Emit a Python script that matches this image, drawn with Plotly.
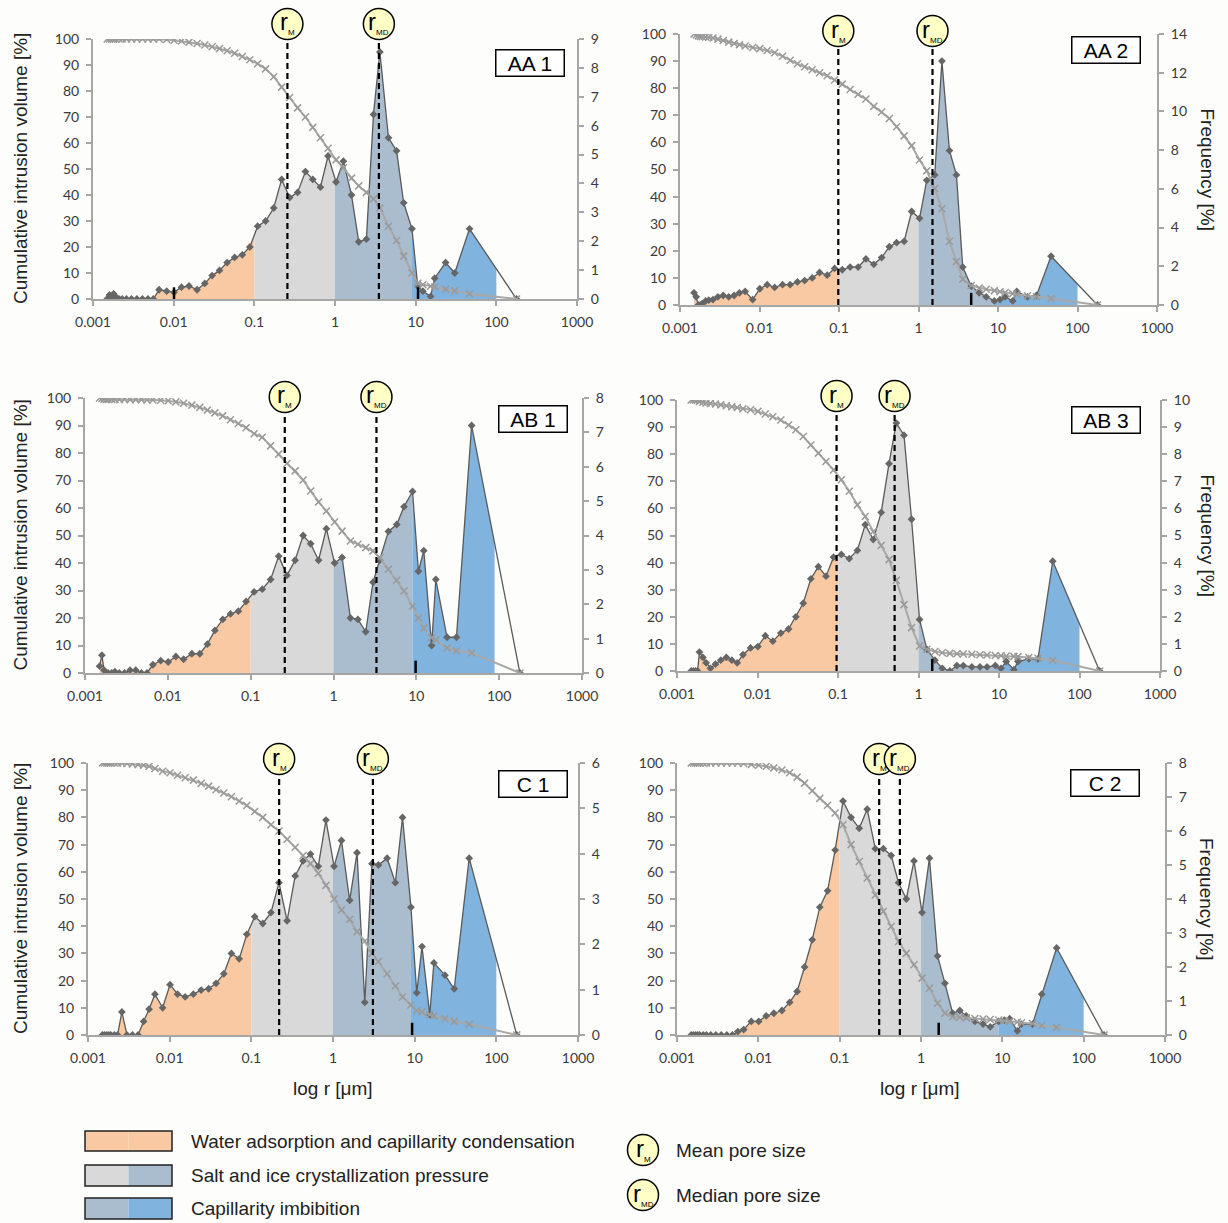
import numpy as np
import plotly.graph_objects as go

# ---------------- data ----------------
radius = [0.0015, 0.0016, 0.0017, 0.0018, 0.0019, 0.0021, 0.0023, 0.0026, 0.0030, 0.0035, 0.0041, 0.0048,
          0.0056, 0.0066, 0.0082, 0.0101, 0.0125, 0.0155, 0.0195, 0.0243, 0.030, 0.037, 0.046, 0.057, 0.071, 0.088,
          0.110, 0.138, 0.174, 0.218, 0.274, 0.344, 0.43, 0.53, 0.66, 0.82,
          1.03, 1.27, 1.6, 1.97, 2.45, 3.0, 3.6, 4.6, 5.8, 7.1, 9.0,
          10.6, 12.3, 15.3, 17.2, 23.5, 30.5, 46.5, 178]

panel_names = ["AA 1", "AA 2", "AB 1", "AB 3", "C 1", "C 2"]

freq_aa1 = [0, 0.14, 0.05, 0.18, 0.09, 0, 0, 0, 0, 0, 0, 0,
            0, 0.32, 0.27, 0.23, 0.41, 0.45, 0.32, 0.54, 0.81, 0.99, 1.26, 1.44, 1.53, 1.80,
            2.52, 2.70, 3.15, 4.14, 3.51, 3.69, 4.41, 4.14, 3.87, 4.95,
            4.05, 4.77, 3.60, 1.98, 2.07, 6.39, 8.55, 5.58, 5.13, 3.33, 2.43,
            0.45, 0.27, 0.09, 0.72, 1.26, 0.90, 2.43, 0]
cum_aa1 = [100, 100, 100, 100, 100, 100, 100, 100, 100, 100, 100, 100,
           100, 100, 99.8, 99.5, 99.2, 98.8, 98.3, 97.7, 97, 96.3, 95.5, 94.5, 93.3, 92,
           90.5, 88.5, 85.5, 81.5, 77.5, 73.5, 70, 66, 62, 58,
           53.5, 50.5, 46.5, 43.5, 41, 38.5, 35, 28, 22.5, 16.5, 10,
           6, 5.5, 4.9, 4.6, 3.8, 3.2, 2, 0]

freq_aa2 = [0.63, 0.42, 0, 0, 0.07, 0.21, 0.25, 0.28, 0.42, 0.49, 0.42, 0.49,
            0.63, 0.70, 0.28, 0.84, 1.05, 0.91, 1.05, 1.05, 1.19, 1.26, 1.40, 1.68, 1.54, 1.89,
            1.82, 1.96, 1.96, 2.38, 2.10, 2.45, 3.01, 3.22, 3.29, 4.83,
            4.48, 6.44, 6.72, 12.60, 7.98, 6.72, 1.96, 0.98, 0.63, 0.42, 0.21,
            0.28, 0.42, 0.21, 0.70, 0.42, 0.49, 2.52, 0]
cum_aa2 = [100, 99.6, 99.3, 99.1, 99, 98.9, 98.8, 98.5, 98.1, 97.6, 97, 96.5,
           96, 95.6, 95, 94.6, 93.9, 93.1, 91.8, 90.3, 89, 87.9, 86.8, 85.7, 84.6, 83,
           81.5, 79.5, 77.8, 76, 73.3, 71.2, 68.8, 65.8, 62.4, 58.8,
           53.5, 49.5, 43, 35.5, 23.5, 16, 9.5, 7.2, 6.3, 5.8, 5.3,
           4.9, 4.6, 4.2, 4.0, 3.4, 3, 2.4, 0]

freq_ab1 = [0.20, 0.52, 0.08, 0, 0, 0, 0.04, 0, 0, 0.08, 0.08, 0,
            0, 0.24, 0.36, 0.32, 0.48, 0.40, 0.56, 0.56, 0.84, 1.24, 1.56, 1.72, 1.80, 2.08,
            2.36, 2.44, 2.72, 3.40, 2.84, 3.28, 4.00, 3.76, 3.28, 4.20,
            3.20, 3.36, 1.60, 1.56, 1.20, 2.64, 3.28, 4.12, 4.32, 4.84, 5.28,
            2.96, 3.56, 0.80, 2.72, 1.04, 1.04, 7.20, 0]
cum_ab1 = [100, 99.8, 99.6, 99.5, 99.5, 99.5, 99.5, 99.5, 99.5, 99.4, 99.4, 99.4,
           99.3, 99.3, 99.2, 99, 98.6, 98.1, 97.4, 96.6, 95.6, 94.6, 93.5, 92.1, 90.7, 89.2,
           87, 85.7, 82.6, 79.6, 76.2, 73.5, 70.2, 66.2, 62.2, 58.9,
           54.9, 51.6, 48, 46.8, 45.6, 44.4, 42, 37.7, 33.7, 29.8, 24.3,
           20, 16.4, 12.8, 12, 9.1, 8.1, 7.3, 0]

freq_ab3 = [0, 0, 0, 0, 0.70, 0.50, 0.30, 0.10, 0.25, 0.40, 0.50, 0.40,
            0.30, 0.60, 0.85, 0.90, 1.30, 1.10, 1.40, 1.55, 2.00, 2.50, 3.40, 3.85, 3.50, 4.20,
            4.30, 4.15, 4.45, 5.40, 4.85, 5.85, 7.65, 9.15, 8.70, 5.60,
            1.90, 0.80, 0.40, 0.10, 0, 0.20, 0.20, 0.15, 0.15, 0.15, 0.20,
            0.10, 0.35, 0.05, 0.35, 0.45, 0.45, 4.05, 0]
cum_ab3 = [100, 100, 100, 100, 99.5, 99.2, 98.9, 98.7, 98.5, 98.2, 97.9, 97.5,
           97.2, 96.8, 96.4, 95.8, 94.8, 93.8, 92.6, 90.8, 89, 86.5, 83.4, 80.4, 77.3, 74.2,
           70.6, 66.3, 61.3, 57, 51.5, 46.3, 41.1, 33.5, 24.5, 16,
           9.2, 8, 7.2, 6.7, 6.5, 6.4, 6.3, 6.2, 6.0, 5.9, 5.7,
           5.6, 5.5, 5.4, 5.3, 5.0, 4.7, 4.0, 0]

freq_c1 = [0, 0, 0, 0, 0, 0, 0, 0.51, 0, 0, 0, 0.30,
           0.57, 0.90, 0.60, 1.11, 0.90, 0.84, 0.90, 0.99, 1.02, 1.14, 1.35, 1.80, 1.68, 2.22,
           2.61, 2.46, 2.70, 3.36, 2.52, 3.51, 3.84, 3.99, 3.72, 4.74,
           3.72, 4.29, 2.97, 4.02, 0.72, 3.78, 3.75, 3.90, 3.36, 4.80, 2.82,
           0.93, 1.95, 0.45, 1.59, 1.32, 1.02, 3.90, 0]
cum_c1 = [100, 100, 100, 100, 100, 100, 100, 100, 99.8, 99.6, 99.4, 99.2,
          98.8, 98, 97, 96.4, 95.5, 94.6, 93.7, 92.5, 91.5, 90.2, 89, 87.6, 86, 84.4,
          82.2, 80, 77.3, 75, 72, 69, 66, 63, 59.5, 55,
          50, 46, 42.5, 38, 34.5, 30, 27, 22.5, 18, 14, 11,
          9, 8.5, 7.5, 7, 6, 5, 4, 0]

freq_c2 = [0, 0, 0, 0, 0, 0, 0, 0, 0, 0, 0, 0,
           0.10, 0.16, 0.40, 0.40, 0.56, 0.64, 0.72, 0.96, 1.28, 2.00, 2.80, 3.76, 4.24, 5.44,
           6.88, 6.40, 6.08, 6.64, 5.48, 5.48, 5.28, 4.48, 4.00, 5.12,
           3.60, 5.20, 2.32, 1.52, 0.64, 0.72, 0.56, 0.40, 0.32, 0.24, 0.40,
           0.44, 0.48, 0.12, 0.32, 0.32, 1.20, 2.56, 0]
cum_c2 = [100, 100, 100, 100, 100, 100, 100, 100, 100, 100, 100, 100,
          100, 99.8, 99.5, 99.2, 98.8, 98.2, 97.4, 96.4, 94.8, 92.6, 89.8, 87, 84.5, 81.6,
          77.3, 70, 63.8, 57.7, 51.5, 45.4, 39.9, 34.4, 30, 25.8,
          20.9, 17.2, 11.7, 8, 6.7, 6.5, 6.3, 6.1, 5.9, 5.7, 5.5,
          5.2, 5.0, 4.8, 4.5, 4.2, 3.5, 2.8, 0]

freq_series = [freq_aa1, freq_aa2, freq_ab1, freq_ab3, freq_c1, freq_c2]
cum_series = [cum_aa1, cum_aa2, cum_ab1, cum_ab3, cum_c1, cum_c2]

freq_max = [9, 14, 8, 10, 6, 8]
freq_step = [1, 2, 1, 1, 1, 1]
r_mean = [0.257, 0.098, 0.258, 0.096, 0.219, 0.306]
r_median = [3.5, 1.5, 3.3, 0.505, 3.08, 0.55]
short_marks = [[0.0101, 10.7], [4.6], [9.8], [1.48], [9.3], [1.65]]

x_tickvals = [0.001, 0.01, 0.1, 1, 10, 100, 1000]
x_ticktext = ["0.001", "0.01", "0.1", "1", "10", "100", "1000"]

zone_edges = [0.1, 1, 9.0]
fill_end = [100, 100, 88, 100, 100, 100]
zone_colors = ["#f8c9a2", "#d9d9d9", "#a9bdcf", "#80b3de"]

legend_labels = ["Water adsorption and capillarity condensation",
                 "Salt and ice crystallization pressure",
                 "Capillarity imbibition"]

# ---------------- layout geometry (pixels) ----------------
W, H = 1228, 1223
boxes = [(93, 577, 39, 299), (680, 1157, 34, 305), (85, 582, 398, 673),
         (677, 1160, 400, 671), (88, 578, 763, 1035), (677, 1165, 763, 1035)]
circle_cy = [24, 31, 397, 396, 759, 759]
label_pos = [(530, 63.5), (1106, 49.5), (532.5, 418.5), (1106, 419.5), (532.5, 783.5), (1105, 783)]
CR = 15.5

BG = "#fdfdfb"
AXC = "#a6a6a6"
TICKFONT = dict(family="Lato, Liberation Sans, sans-serif", size=14, color="#3a3a3a")
TXT = "Liberation Sans, Arial, sans-serif"
CIRCLE_FILL = "#ffffc6"
X_LOG_MIN, X_LOG_MAX = -3, 3


def px(x):
    return x / W


def py(y):
    return 1 - y / H


def zone(xs, ys, lo, hi):
    lx = np.log10(xs)
    f = lambda v: float(np.interp(np.log10(v), lx, ys))
    zx = [lo] + [x for x in xs if lo < x < hi] + [hi]
    zy = [f(lo)] + [y for x, y in zip(xs, ys) if lo < x < hi] + [f(hi)]
    return zx, zy


def r_label(sub):
    return f"r<sub><span style='font-size:8px'>{sub}</span></sub>"


fig = go.Figure()
layout = {}
annotations = []
shapes = []

for k in range(6):
    xid = "x" if k == 0 else f"x{k+1}"
    yf = "y" if k == 0 else f"y{2*k+1}"
    yc = f"y{2*k+2}"
    xname = "xaxis" if k == 0 else f"xaxis{k+1}"
    yfname = "yaxis" if k == 0 else f"yaxis{2*k+1}"
    ycname = f"yaxis{2*k+2}"
    x0, x1, y0, y1 = boxes[k]
    fr = freq_series[k]
    cm = cum_series[k]

    bounds = [radius[0]] + zone_edges + [fill_end[k]]
    for z in range(4):
        zx, zy = zone(radius, fr, bounds[z], bounds[z + 1])
        fig.add_trace(go.Scatter(x=zx, y=zy, xaxis=xid, yaxis=yf, mode="lines",
                                 line=dict(width=0), fill="tozeroy",
                                 fillcolor=zone_colors[z], hoverinfo="skip"))
    fig.add_trace(go.Scatter(x=radius, y=fr, xaxis=xid, yaxis=yf, mode="lines+markers",
                             line=dict(color="#5a5a5a", width=1.3),
                             marker=dict(symbol="diamond", size=6, color="#666666")))
    fig.add_trace(go.Scatter(x=radius, y=cm, xaxis=xid, yaxis=yc, mode="lines+markers",
                             line=dict(color="#a8a8a8", width=2),
                             marker=dict(symbol="x-thin", size=7, color="#9a9a9a",
                                         line=dict(color="#9a9a9a", width=1.5))))
    for r in (r_mean[k], r_median[k]):
        fig.add_trace(go.Scatter(x=[r, r], y=[0, 100], xaxis=xid, yaxis=yc, mode="lines",
                                 line=dict(color="black", width=2.2, dash="6px,4px")))
    for m in short_marks[k]:
        fig.add_trace(go.Scatter(x=[m, m], y=[0, 4.5], xaxis=xid, yaxis=yc, mode="lines",
                                 line=dict(color="black", width=2.5)))

    # circle markers for mean / median pore size (above the plot area)
    for r, sub in ((r_mean[k], "M"), (r_median[k], "MD")):
        frac = (np.log10(r) - X_LOG_MIN) / (X_LOG_MAX - X_LOG_MIN)
        cxp = px(x0) + frac * (px(x1) - px(x0))
        cyp = py(circle_cy[k])
        shapes.append(dict(type="circle", xref="paper", yref="paper",
                           x0=cxp - CR / W, x1=cxp + CR / W, y0=cyp - CR / H, y1=cyp + CR / H,
                           fillcolor=CIRCLE_FILL, line=dict(color="black", width=1.5),
                           layer="above"))
        annotations.append(dict(xref="paper", yref="paper", x=cxp, y=cyp,
                                text=r_label(sub), showarrow=False,
                                xanchor="center", yanchor="middle", yshift=1,
                                font=dict(family=TXT, size=24, color="black")))

    common = dict(showline=True, linecolor=AXC, linewidth=2, ticks="outside", ticklen=5,
                  tickcolor=AXC, tickwidth=1.5, showgrid=False, zeroline=False,
                  tickfont=TICKFONT, automargin=False)
    layout[xname] = dict(type="log", range=[X_LOG_MIN, X_LOG_MAX], domain=[px(x0), px(x1)], anchor=yf,
                         tickmode="array", tickvals=x_tickvals, ticktext=x_ticktext,
                         ticklabelstandoff=4, **common)
    layout[yfname] = dict(domain=[py(y1), py(y0)], anchor=xid, side="right",
                          range=[0, freq_max[k]], tickmode="linear", tick0=0, dtick=freq_step[k],
                          ticklabelstandoff=4, **common)
    layout[ycname] = dict(domain=[py(y1), py(y0)], anchor=xid, side="left", overlaying=yf,
                          range=[0, 100], tickmode="linear", tick0=0, dtick=10,
                          ticklabelstandoff=4, **common)

    lx, ly = label_pos[k]
    annotations.append(dict(xref="paper", yref="paper", x=px(lx), y=py(ly), text=panel_names[k],
                            showarrow=False, xanchor="center", yanchor="middle",
                            font=dict(family=TXT, size=21, color="black"),
                            bgcolor="white", bordercolor="black", borderwidth=1.5,
                            borderpad=2, width=63, height=21))
    cy = (y0 + y1) / 2
    if k % 2 == 0:
        annotations.append(dict(xref="paper", yref="paper", x=px(20), y=py(cy),
                                text="Cumulative intrusion volume [%]", textangle=-90,
                                showarrow=False, xanchor="center", yanchor="middle",
                                font=dict(family=TXT, size=19, color="#222222")))
    else:
        annotations.append(dict(xref="paper", yref="paper", x=px(1207), y=py(cy),
                                text="Frequency [%]", textangle=90,
                                showarrow=False, xanchor="center", yanchor="middle",
                                font=dict(family=TXT, size=19, color="#222222")))

for xc in (333, 920):
    annotations.append(dict(xref="paper", yref="paper", x=px(xc), y=py(1088),
                            text="log r [μm]", showarrow=False, xanchor="center", yanchor="middle",
                            font=dict(family=TXT, size=19, color="#222222")))

# ---------------- legend ----------------
rect_rows = [(1131, 1151), (1165, 1186), (1198, 1219)]
rect_fill = [(zone_colors[0], zone_colors[0]), (zone_colors[1], zone_colors[2]),
             (zone_colors[2], zone_colors[3])]
for (ya, yb), (ca, cb) in zip(rect_rows, rect_fill):
    shapes.append(dict(type="rect", xref="paper", yref="paper", x0=px(85), x1=px(128.5),
                       y0=py(yb), y1=py(ya), fillcolor=ca, line=dict(width=0), layer="above"))
    shapes.append(dict(type="rect", xref="paper", yref="paper", x0=px(128.5), x1=px(172),
                       y0=py(yb), y1=py(ya), fillcolor=cb, line=dict(width=0), layer="above"))
    shapes.append(dict(type="rect", xref="paper", yref="paper", x0=px(85), x1=px(172),
                       y0=py(yb), y1=py(ya), line=dict(color="#222222", width=1.5), layer="above"))
for (ya, yb), lab in zip(rect_rows, legend_labels):
    annotations.append(dict(xref="paper", yref="paper", x=px(189), y=py((ya + yb) / 2),
                            text=lab, showarrow=False, xanchor="left", yanchor="middle",
                            font=dict(family=TXT, size=19, color="#222222")))

for yc_, sub, lab in [(1150, "M", "Mean pore size"), (1195, "MD", "Median pore size")]:
    shapes.append(dict(type="circle", xref="paper", yref="paper", x0=px(643 - CR), x1=px(643 + CR),
                       y0=py(yc_ + CR), y1=py(yc_ - CR), fillcolor=CIRCLE_FILL,
                       line=dict(color="black", width=1.5), layer="above"))
    annotations.append(dict(xref="paper", yref="paper", x=px(643), y=py(yc_),
                            text=r_label(sub), showarrow=False, xanchor="center", yanchor="middle",
                            yshift=1, font=dict(family=TXT, size=24, color="black")))
    annotations.append(dict(xref="paper", yref="paper", x=px(674), y=py(yc_),
                            text=lab, showarrow=False, xanchor="left", yanchor="middle",
                            font=dict(family=TXT, size=19, color="#222222")))

fig.update_layout(width=W, height=H, margin=dict(l=0, r=0, t=0, b=0, autoexpand=False),
                  paper_bgcolor=BG, plot_bgcolor=BG, showlegend=False,
                  annotations=annotations, shapes=shapes, **layout)

fig.write_html("out.html", config={"displayModeBar": False},
               post_script="document.body.style.margin='0';document.body.style.overflow='hidden';")
